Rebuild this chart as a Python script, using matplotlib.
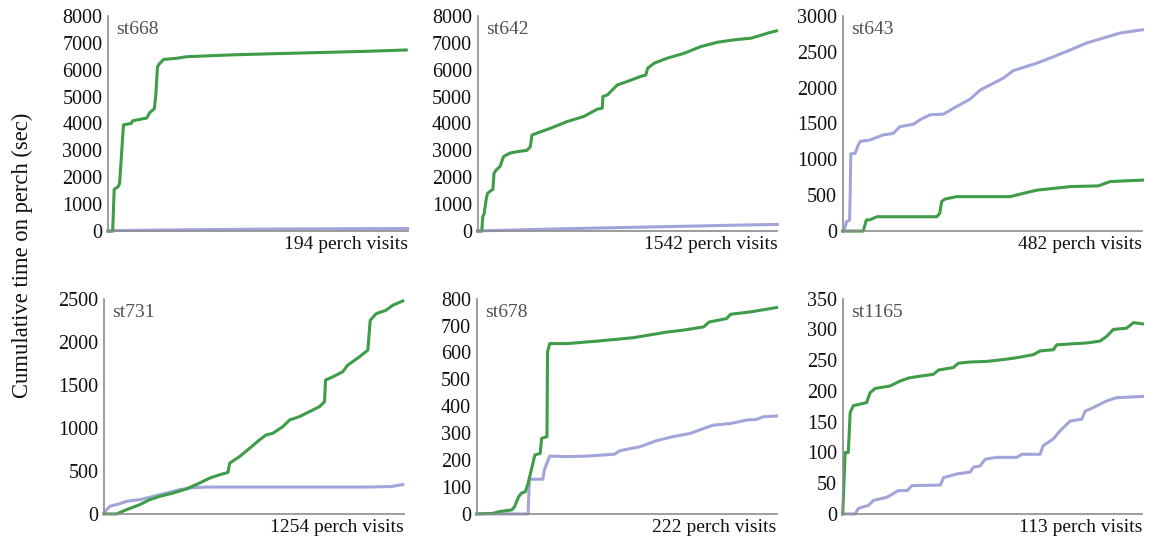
import matplotlib
matplotlib.use("Agg")
import matplotlib.pyplot as plt

plt.rcParams['font.family'] = ['Liberation Serif', 'DejaVu Serif']

GREEN = '#3f9c48'
LAVENDER = '#a2a5da'

# ---- data: (visit number, cumulative seconds) ----
names = ['st668', 'st642', 'st643', 'st731', 'st678', 'st1165']
visits = [194, 1542, 482, 1254, 222, 113]
ymax = [8000, 8000, 3000, 2500, 800, 350]
ystep = [1000, 1000, 500, 500, 100, 50]

st668_green_x = [0, 3, 4, 6.5, 7.5, 10, 15, 16, 25, 27, 30, 31, 32, 33, 36, 44, 51, 81, 113, 167, 193]
st668_green_y = [0, 0, 1550, 1650, 1770, 3950, 4000, 4100, 4200, 4400, 4550, 5100, 6100, 6200, 6380, 6420, 6480, 6550, 6600, 6680, 6730]
st668_lav_x = [0, 5, 50, 120, 194]
st668_lav_y = [0, 20, 50, 80, 95]

st642_green_x = [0, 21, 26, 33, 43, 50, 67, 78, 84, 95, 115, 133, 167, 202, 253, 271, 279, 305, 374, 460,
                 546, 615, 641, 644, 667, 718, 770, 839, 865, 874, 908, 977, 1063, 1149, 1235, 1322, 1408, 1494, 1537]
st642_green_y = [0, 0, 530, 650, 1150, 1400, 1500, 1550, 2150, 2270, 2400, 2770, 2900, 2950, 3000, 3140, 3570, 3640, 3820, 4070,
                 4260, 4530, 4570, 5000, 5060, 5430, 5560, 5750, 5800, 6050, 6240, 6430, 6610, 6860, 7020, 7110, 7170, 7360, 7440]
st642_lav_x = [0, 20, 400, 800, 1200, 1542]
st642_lav_y = [0, 10, 80, 140, 200, 250]

st643_green_x = [0, 33, 38, 43, 55, 151, 156, 159, 164, 183, 269, 290, 312, 339, 366, 411, 430, 482]
st643_green_y = [0, 0, 155, 155, 200, 200, 245, 410, 445, 480, 480, 525, 570, 595, 620, 630, 690, 710]
st643_lav_x = [0, 4, 6, 11, 12, 13, 20, 24, 28, 44, 65, 81, 92, 114, 124, 140, 162, 183, 205, 221,
               232, 258, 274, 312, 339, 366, 392, 419, 446, 482]
st643_lav_y = [0, 60, 130, 150, 525, 1075, 1085, 1180, 1250, 1270, 1340, 1360, 1455, 1490, 1550, 1620, 1630, 1735, 1840, 1965,
               2015, 2130, 2235, 2340, 2430, 2525, 2620, 2690, 2760, 2805]

st731_green_x = [0, 53, 95, 150, 192, 234, 290, 345, 401, 443, 484, 519, 526, 568, 610, 651, 679, 707, 749, 777,
                 818, 860, 902, 923, 927, 958, 999, 1020, 1069, 1104, 1114, 1139, 1180, 1208, 1250]
st731_green_y = [0, 0, 50, 108, 166, 205, 243, 290, 360, 417, 455, 482, 590, 667, 764, 860, 918, 937, 1015, 1092,
                 1130, 1188, 1246, 1304, 1555, 1593, 1651, 1728, 1825, 1902, 2249, 2326, 2365, 2423, 2473]
st731_lav_x = [0, 11, 25, 67, 95, 150, 192, 262, 318, 373, 429, 1100, 1200, 1250]
st731_lav_y = [12, 50, 89, 120, 147, 166, 193, 243, 282, 305, 312, 312, 318, 340]

st678_green_x = [0, 12, 17, 26, 28, 31, 33, 36, 38, 41, 43, 47, 48, 52, 52.4, 54, 67, 91, 116, 141,
                 153, 168, 172, 185, 188, 203, 222]
st678_green_y = [0, 2, 9, 15, 27, 64, 77, 83, 114, 176, 219, 225, 281, 287, 602, 633, 633, 643, 655, 676,
                 683, 695, 713, 726, 742, 751, 767]
st678_lav_x = [0, 38, 39, 49, 50, 54, 67, 82, 102, 106, 121, 133, 145, 158, 165, 175, 188, 200, 207, 212, 222]
st678_lav_y = [0, 0, 129, 129, 163, 215, 213, 215, 222, 235, 250, 272, 287, 299, 312, 330, 336, 349, 351, 361, 364]

st1165_green_x = [0, 0.9, 2.1, 2.8, 4, 9, 10.3, 12.2, 17.8, 21.6, 24.8, 29.2, 34.2, 36.1, 41.7, 43.6, 48, 54.3,
                  60.6, 65.6, 71.9, 74.4, 79.4, 80.7, 92, 97, 99.6, 102, 107, 109.6, 113]
st1165_green_y = [0, 100, 100, 165, 176, 181, 197, 204, 208, 216, 221, 224, 227, 234, 238, 245, 247, 248,
                  251, 254, 259, 265, 267, 275, 278, 281, 289, 300, 302, 311, 309]
st1165_lav_x = [0, 4.7, 5.9, 9.7, 11.6, 16.6, 21, 24.3, 26.1, 36.8, 38, 43, 48, 49.3, 51.8, 53.7, 58.1, 65.6,
                67.5, 74.4, 75.6, 79.4, 81.9, 85.7, 90.1, 91.4, 94.5, 99.6, 103.3, 113]
st1165_lav_y = [0, 0, 9, 14, 22, 27, 38, 38, 46, 47, 59, 65, 68, 76, 78, 89, 92, 92,
                97, 97, 111, 122, 135, 151, 154, 167, 173, 184, 189, 191]

green = [(st668_green_x, st668_green_y), (st642_green_x, st642_green_y), (st643_green_x, st643_green_y),
         (st731_green_x, st731_green_y), (st678_green_x, st678_green_y), (st1165_green_x, st1165_green_y)]
lavender = [(st668_lav_x, st668_lav_y), (st642_lav_x, st642_lav_y), (st643_lav_x, st643_lav_y),
            (st731_lav_x, st731_lav_y), (st678_lav_x, st678_lav_y), (st1165_lav_x, st1165_lav_y)]

# ---- layout (figure fractions) ----
lefts = [0.0928, 0.4104, 0.724, 0.0893, 0.4096, 0.724]
width = 0.2575
bottoms = [0.576, 0.576, 0.576, 0.057, 0.057, 0.057]
height = 0.395

fig = plt.figure(figsize=(11.64, 5.45), dpi=100)

for i in range(6):
    ax = fig.add_axes([lefts[i], bottoms[i], width, height])
    ax.plot(lavender[i][0], lavender[i][1], color=LAVENDER, lw=2.2, clip_on=False, solid_joinstyle='round')
    ax.plot(green[i][0], green[i][1], color=GREEN, lw=2.2, clip_on=False, solid_joinstyle='round')
    ax.set_xlim(0, visits[i])
    ax.set_ylim(0, ymax[i])
    ax.set_yticks(range(0, ymax[i] + 1, ystep[i]))
    ax.set_xticks([])
    for s in ['top', 'right']:
        ax.spines[s].set_visible(False)
    for s in ['left', 'bottom']:
        ax.spines[s].set_color('#8c8c8c')
        ax.spines[s].set_linewidth(1.2)
    ax.tick_params(axis='y', length=0, pad=4, labelsize=14.5, labelcolor='#111111')
    ax.text(0.027, 0.975, names[i], transform=ax.transAxes, ha='left', va='top',
            fontsize=14, color='#505050')
    ax.text(1.0, -0.022, f'{visits[i]} perch visits', transform=ax.transAxes,
            ha='right', va='top', fontsize=14, color='#111111')

fig.text(0.019, 0.532, 'Cumulative time on perch (sec)', rotation=90, ha='center', va='center',
         fontsize=16.3, color='#111111')

fig.savefig('out.png', dpi=100)
